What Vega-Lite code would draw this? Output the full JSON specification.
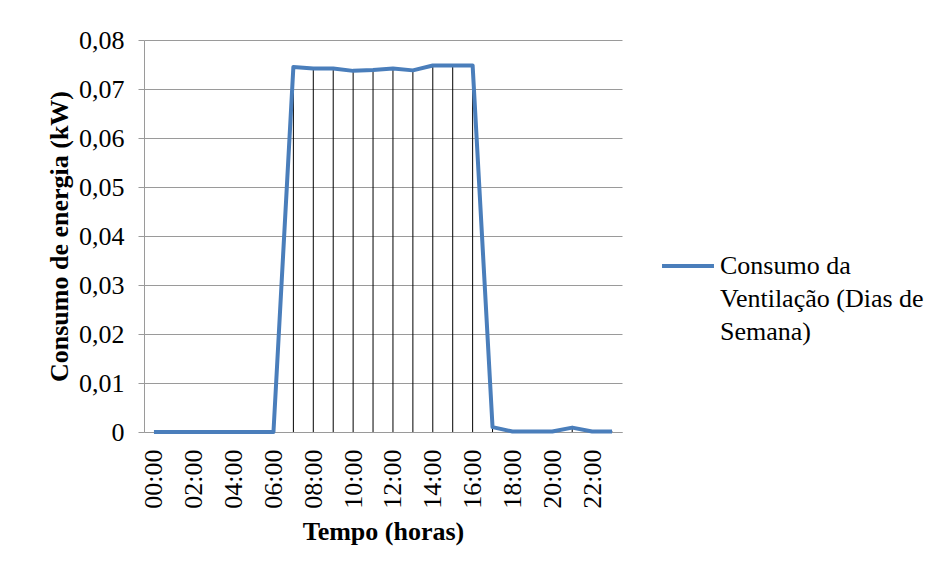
{
  "$schema": "https://vega.github.io/schema/vega-lite/v6.json",
  "width": 478,
  "height": 392,
  "autosize": {"type": "none"},
  "padding": {"left": 144, "top": 40, "right": 318, "bottom": 139},
  "background": "white",
  "config": {
    "font": "Liberation Serif, serif",
    "view": {"stroke": null}
  },
  "data": {
    "values": [
      {"hora": "00:00", "valor": 0, "serie": "s"},
      {"hora": "01:00", "valor": 0, "serie": "s"},
      {"hora": "02:00", "valor": 0, "serie": "s"},
      {"hora": "03:00", "valor": 0, "serie": "s"},
      {"hora": "04:00", "valor": 0, "serie": "s"},
      {"hora": "05:00", "valor": 0, "serie": "s"},
      {"hora": "06:00", "valor": 0, "serie": "s"},
      {"hora": "07:00", "valor": 0.0745, "serie": "s"},
      {"hora": "08:00", "valor": 0.0742, "serie": "s"},
      {"hora": "09:00", "valor": 0.0742, "serie": "s"},
      {"hora": "10:00", "valor": 0.0737, "serie": "s"},
      {"hora": "11:00", "valor": 0.0739, "serie": "s"},
      {"hora": "12:00", "valor": 0.0742, "serie": "s"},
      {"hora": "13:00", "valor": 0.0738, "serie": "s"},
      {"hora": "14:00", "valor": 0.0748, "serie": "s"},
      {"hora": "15:00", "valor": 0.0748, "serie": "s"},
      {"hora": "16:00", "valor": 0.0748, "serie": "s"},
      {"hora": "17:00", "valor": 0.0010, "serie": "s"},
      {"hora": "18:00", "valor": 0.0001, "serie": "s"},
      {"hora": "19:00", "valor": 0.0001, "serie": "s"},
      {"hora": "20:00", "valor": 0.0001, "serie": "s"},
      {"hora": "21:00", "valor": 0.0009, "serie": "s"},
      {"hora": "22:00", "valor": 0.0001, "serie": "s"},
      {"hora": "23:00", "valor": 0.0001, "serie": "s"}
    ]
  },
  "encoding": {
    "x": {
      "field": "hora",
      "type": "ordinal",
      "scale": {"type": "point", "padding": 0.5},
      "axis": {
        "values": ["00:00","02:00","04:00","06:00","08:00","10:00","12:00","14:00","16:00","18:00","20:00","22:00"],
        "labelAngle": -90,
        "labelFont": "Liberation Serif, serif",
        "labelFontSize": 26,
        "labelColor": "black",
        "labelPadding": 17,
        "ticks": false,
        "domainColor": "#9a9a9a",
        "title": "Tempo (horas)",
        "titleFont": "Liberation Serif, serif",
        "titleColor": "black",
        "titleFontSize": 26,
        "titleFontWeight": "bold",
        "titlePadding": 10
      }
    },
    "y": {
      "field": "valor",
      "type": "quantitative",
      "scale": {"domain": [0, 0.08], "nice": false},
      "axis": {
        "values": [0, 0.01, 0.02, 0.03, 0.04, 0.05, 0.06, 0.07, 0.08],
        "labelExpr": "datum.value == 0 ? '0' : replace(format(datum.value, '.2f'), '.', ',')",
        "labelFont": "Liberation Serif, serif",
        "labelFontSize": 26,
        "labelColor": "black",
        "labelPadding": 14,
        "tickColor": "#9a9a9a",
        "tickSize": 6,
        "domainColor": "#9a9a9a",
        "gridColor": "#9a9a9a",
        "gridOpacity": 1,
        "title": "Consumo de energia (kW)",
        "titleFont": "Liberation Serif, serif",
        "titleColor": "black",
        "titleFontSize": 26,
        "titleFontWeight": "bold",
        "titlePadding": 6
      }
    }
  },
  "layer": [
    {
      "mark": {"type": "rule", "color": "black", "strokeWidth": 1},
      "encoding": {"y2": {"datum": 0}}
    },
    {
      "mark": {"type": "line", "strokeWidth": 4, "strokeJoin": "round"},
      "encoding": {
        "color": {
          "field": "serie",
          "type": "nominal",
          "scale": {"range": ["#4a7ebb"]},
          "legend": {
            "orient": "none",
            "legendX": 516,
            "legendY": 198,
            "title": null,
            "symbolType": "stroke",
            "symbolSize": 2700,
            "symbolStrokeWidth": 4,
            "labelFont": "Liberation Serif, serif",
            "labelFontSize": 26,
            "labelColor": "black",
            "labelLimit": 300,
            "labelOffset": 4,
            "labelExpr": "['Consumo da', 'Ventilação (Dias de', 'Semana)']",
            "encode": {"labels": {"update": {"lineHeight": {"value": 33}}}}
          }
        }
      }
    }
  ]
}
